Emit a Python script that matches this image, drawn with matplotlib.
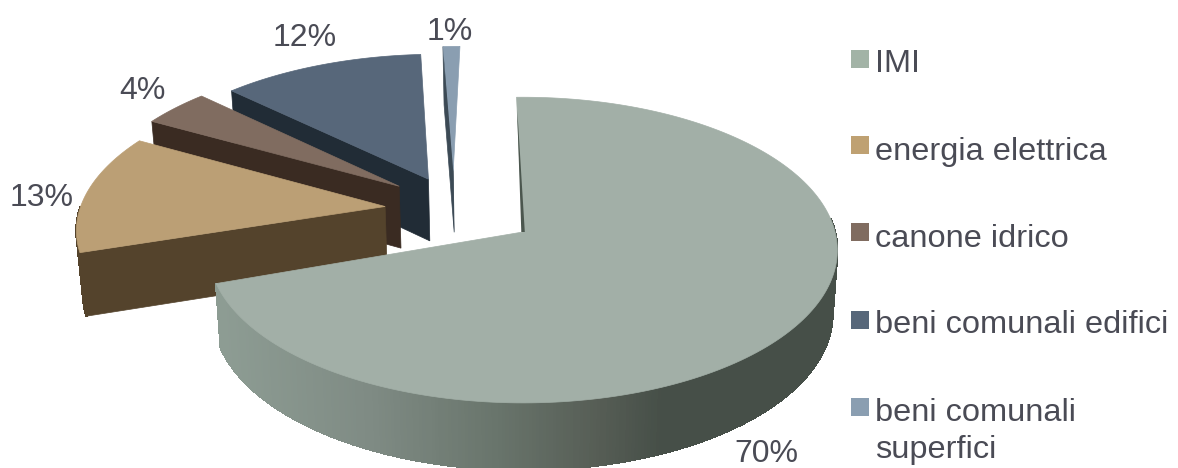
import numpy as np
import matplotlib
matplotlib.use('Agg')
import matplotlib.pyplot as plt
from matplotlib.colors import LinearSegmentedColormap
from matplotlib.patches import Polygon, Rectangle

categorie = ['IMI', 'energia elettrica', 'canone idrico', 'beni comunali edifici', 'beni comunali\nsuperfici']
valori = [70, 13, 4, 12, 1]

colori_sopra = ['#a2afa7', '#bb9f75', '#806c60', '#57677a', '#8a9eb1']
colori_lato = ['#464f48', '#54432c', '#3a2b22', '#212c36', '#3c4a55']
colori_legenda = ['#a2b3a6', '#bfa172', '#806c60', '#57677a', '#8a9eb1']

# spostamento e raggio di ogni fetta sul piano della torta
esplosione = [(0.012, 0.0), (-0.431, 0.170), (-0.392, 0.310), (-0.298, 0.360), (-0.218, 0.420)]
raggi = [0.985, 0.98, 1.0, 0.99, 1.0]

# prospettiva della torta, in pixel
CX, CY = 519, 232
RX, RY = 317, 153
K = 0.12
SPESSORE = 63
CONV = 0.985
ROTAZIONE_IMI = -1.2


def proietta(u, v):
    w = 1 + K * v
    return CX + RX * u / w, CY - RY * v / w


def proietta_sotto(u, v):
    x, y = proietta(u, v)
    w = 1 + K * v
    return CX + (x - CX) * CONV, y + SPESSORE / np.sqrt(w)


def punti_arco(centro, r, a0, a1, n=80):
    ang = np.radians(np.linspace(a0, a1, n))
    return centro[0] + r * np.sin(ang), centro[1] + r * np.cos(ang)


fig = plt.figure(figsize=(11.78, 4.68), dpi=100)
ax = fig.add_axes([0, 0, 1, 1])
ax.set_xlim(0, 1178)
ax.set_ylim(468, 0)
ax.axis('off')

# angoli delle fette, in senso orario da ore 12
fine = np.cumsum(valori) / np.sum(valori) * 360
inizio = np.concatenate([[0], fine[:-1]])
inizio[0] += ROTAZIONE_IMI
fine[0] += ROTAZIONE_IMI

# sfumatura del bordo della fetta grande, da sinistra a destra
sfumatura = LinearSegmentedColormap.from_list(
    'bordo', [(0.0, '#8d9c93'), (0.24, '#7f8b84'), (0.445, '#69756c'), (0.615, '#565d55'), (0.717, '#464f48'), (1.0, '#464f48')])

# si disegna da dietro in avanti, la fetta grande per ultima
for i in [4, 3, 2, 1, 0]:
    a0, a1 = inizio[i], fine[i]
    c = esplosione[i]
    r = raggi[i]

    if i > 0:
        # faccia piana verso chi guarda
        u_f, v_f = punti_arco(c, r, a0, a0, 1)
        faccia = [proietta(c[0], c[1]), proietta(u_f[0], v_f[0]),
                  proietta_sotto(u_f[0], v_f[0]), proietta_sotto(c[0], c[1])]
        ax.add_patch(Polygon(faccia, closed=True, fc=colori_lato[i], ec=colori_lato[i], lw=0.5))

    # bordo curvo visibile solo nella parte anteriore
    b0, b1 = max(a0, 85), min(a1, 270)
    if b1 > b0:
        u, v = punti_arco(c, r, b0, b1, 300)
        for j in range(len(u) - 1):
            quad = [proietta(u[j], v[j]), proietta(u[j + 1], v[j + 1]),
                    proietta_sotto(u[j + 1], v[j + 1]), proietta_sotto(u[j], v[j])]
            if i == 0:
                colore = sfumatura((quad[0][0] - 220) / 618)
            else:
                colore = colori_lato[i]
            ax.add_patch(Polygon(quad, closed=True, fc=colore, ec=colore, lw=1.0, antialiased=False))

    # faccia superiore
    u, v = punti_arco(c, r, a0, a1, 200)
    x, y = proietta(u, v)
    xc, yc = proietta(c[0], c[1])
    ax.add_patch(Polygon(np.column_stack([np.r_[xc, x], np.r_[yc, y]]), closed=True,
                         fc=colori_sopra[i], ec=colori_sopra[i], lw=0.5))

    if i == 4:
        # lato sottile della fetta piu piccola
        u_s, v_s = punti_arco(c, r, a0, a0, 1)
        xo, yo = proietta(u_s[0], v_s[0])
        xt, yt = proietta_sotto(c[0], c[1])
        ax.add_patch(Polygon([(xo, yo), (xc, yc), (xt, yt)], closed=True, fc=colori_lato[i], ec='none'))

# filo scuro sul taglio verticale della fetta grande
u_t, v_t = punti_arco(esplosione[0], raggi[0], inizio[0], inizio[0], 1)
xa, ya = proietta(u_t[0], v_t[0])
xb, yb = proietta(esplosione[0][0], esplosione[0][1])
ax.add_patch(Polygon([(xa + 0.5, ya + 12), (xa + 1.5, ya + 25), (xb + 2, yb), (xb - 1.5, yb)], closed=True,
                     fc='#4b564e', ec='none'))

# etichette percentuali
testo = '#4a4b55'
pos_etichette = [(766, 454), (42, 198), (142, 91), (305, 38), (450, 32)]
for val, (xe, ye) in zip(valori, pos_etichette):
    ax.text(xe, ye, f'{val}%', ha='center', va='center', fontsize=23, color=testo, family='Liberation Sans')

# legenda
y_legenda = [59, 145, 232, 320, 407]
y_testo = [72, 160, 247, 333, 421]
for nome, col, yq, yt in zip(categorie, colori_legenda, y_legenda, y_testo):
    ax.add_patch(Rectangle((851, yq - 9), 18, 18, fc=col, ec='none'))
    righe = nome.split('\n')
    for n, riga in enumerate(righe):
        ax.text(875, yt + n * 37, riga, ha='left', va='baseline', fontsize=23.4, color=testo, family='Liberation Sans')

fig.savefig('out.png', dpi=100)
